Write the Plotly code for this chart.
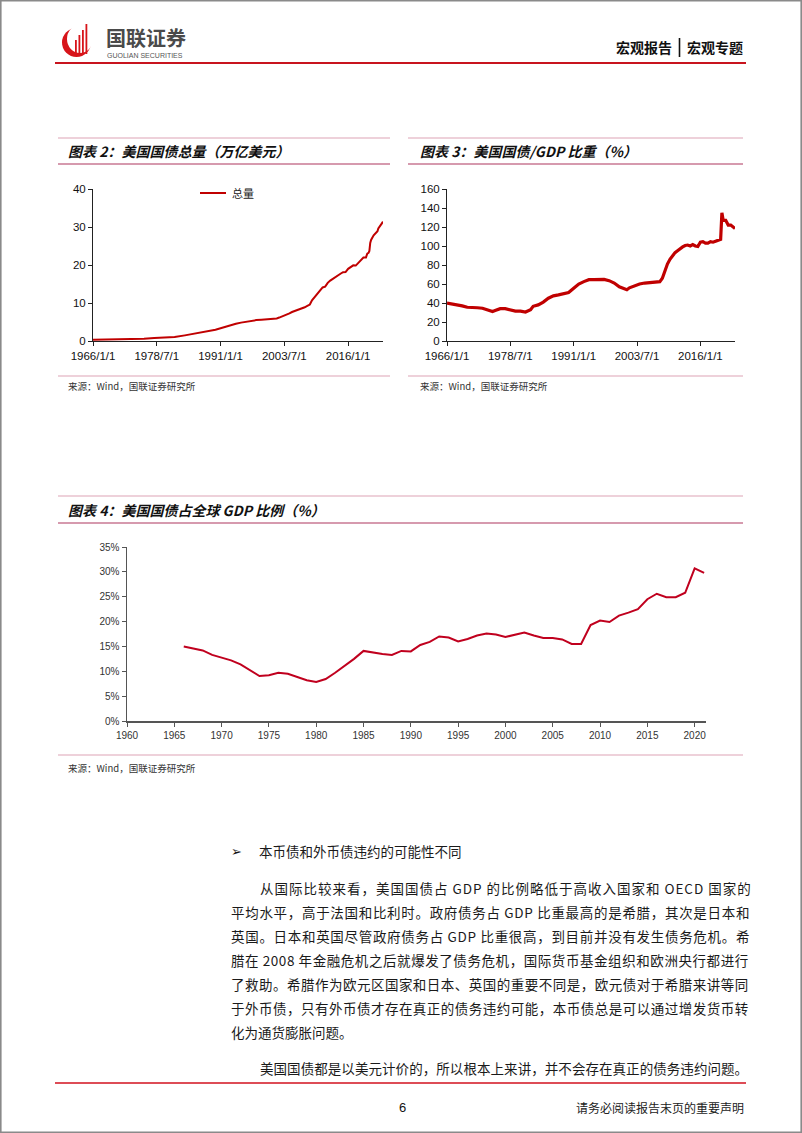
import plotly.graph_objects as go

# ---------------- data ----------------
# Chart 2: US federal debt total (trillion USD)
debt_dates = ['1966-01-01', '1968-01-01', '1970-01-01', '1972-01-01', '1974-01-01', '1976-01-01',
              '1978-01-01', '1980-01-01', '1982-01-01', '1984-01-01', '1986-01-01', '1988-01-01',
              '1990-01-01', '1991-01-01', '1992-01-01', '1993-01-01', '1994-01-01', '1995-01-01',
              '1996-01-01', '1997-01-01', '1998-01-01', '1999-01-01', '2000-01-01', '2000-07-01',
              '2001-01-01', '2001-07-01', '2002-01-01', '2002-07-01', '2003-01-01', '2003-07-01',
              '2004-01-01', '2004-07-01', '2005-01-01', '2005-07-01', '2006-01-01', '2006-07-01',
              '2007-01-01', '2007-07-01', '2008-01-01', '2008-07-01', '2008-12-01', '2009-06-01',
              '2010-01-01', '2010-07-01', '2011-01-01', '2011-07-01', '2012-01-01', '2012-07-01',
              '2013-01-01', '2013-07-01', '2014-01-01', '2014-07-01', '2015-01-01', '2015-07-01',
              '2016-01-01', '2016-07-01', '2017-01-01', '2017-07-01', '2018-01-01', '2018-07-01',
              '2019-01-01', '2019-07-01', '2019-10-01', '2020-01-01', '2020-03-01', '2020-05-01',
              '2020-07-01', '2021-01-01', '2021-07-01', '2021-10-01', '2021-12-01', '2022-04-01',
              '2022-08-01', '2022-11-01']
debt_total = [0.32, 0.35, 0.37, 0.42, 0.47, 0.58,
              0.76, 0.85, 1.03, 1.48, 1.95, 2.43,
              2.95, 3.35, 3.78, 4.19, 4.55, 4.84,
              5.09, 5.32, 5.50, 5.61, 5.73, 5.66,
              5.73, 5.72, 5.94, 6.17, 6.40, 6.78,
              7.00, 7.28, 7.63, 7.84, 8.17, 8.42,
              8.68, 8.87, 9.23, 9.60, 10.70, 11.50,
              12.30, 13.20, 14.10, 14.30, 15.30, 15.90,
              16.40, 16.70, 17.30, 17.70, 18.10, 18.15,
              19.00, 19.40, 19.90, 19.85, 20.50, 21.20,
              21.98, 22.00, 23.00, 23.20, 23.70, 25.80,
              26.60, 27.80, 28.40, 28.90, 29.60, 30.40,
              30.90, 31.40]

# Chart 3: US federal debt / GDP (%)
ratio_dates = ['1966-01-01', '1967-01-01', '1968-01-01', '1969-01-01', '1970-01-01', '1971-01-01',
               '1972-01-01', '1973-01-01', '1974-01-01', '1975-01-01', '1975-07-01', '1976-07-01',
               '1977-07-01', '1978-07-01', '1979-07-01', '1980-07-01', '1981-07-01', '1982-07-01',
               '1983-01-01', '1984-01-01', '1985-01-01', '1986-01-01', '1987-01-01', '1988-01-01',
               '1989-01-01', '1990-01-01', '1991-01-01', '1992-01-01', '1993-01-01', '1994-01-01',
               '1995-01-01', '1996-01-01', '1997-01-01', '1998-01-01', '1999-01-01', '2000-01-01',
               '2001-01-01', '2001-07-01', '2002-01-01', '2003-01-01', '2004-01-01', '2005-01-01',
               '2006-01-01', '2007-01-01', '2008-01-01', '2008-07-01', '2009-01-01', '2009-07-01',
               '2010-01-01', '2010-07-01', '2011-01-01', '2011-07-01', '2012-01-01', '2012-07-01',
               '2013-01-01', '2013-07-01', '2014-01-01', '2014-07-01', '2015-01-01', '2015-07-01',
               '2016-01-01', '2016-07-01', '2017-01-01', '2017-07-01', '2018-01-01', '2018-07-01',
               '2019-01-01', '2019-07-01', '2020-01-01', '2020-04-01', '2020-07-01', '2021-01-01',
               '2021-07-01', '2022-01-01', '2022-11-01']
ratio_values = [40, 39, 38.5, 37, 35.5, 35.5,
                35, 34.5, 32.5, 31, 32, 34,
                34, 33, 31.5, 31.5, 30.5, 33,
                36.5, 38, 41, 45, 47.5, 48.5,
                49.5, 51, 55.5, 60, 62.5, 64.5,
                64.5, 65, 64.8, 63.5, 61, 57,
                54.5, 54, 56, 58, 60, 61,
                61.5, 62, 62.5, 66, 74, 81,
                86, 90, 93, 95, 97.5, 99,
                100.5, 101, 100, 101.5, 100, 99.5,
                104, 104.5, 103, 103, 104.5, 104,
                105, 106, 107, 135, 127, 127,
                122, 122, 118.5]

# Chart 4: US debt as share of world GDP (%)
world_years = [1966, 1967, 1968, 1969, 1970, 1971, 1972, 1973, 1974, 1975, 1976, 1977, 1978, 1979,
               1980, 1981, 1982, 1983, 1984, 1985, 1986, 1987, 1988, 1989, 1990, 1991, 1992, 1993,
               1994, 1995, 1996, 1997, 1998, 1999, 2000, 2001, 2002, 2003, 2004, 2005, 2006, 2007,
               2008, 2009, 2010, 2011, 2012, 2013, 2014, 2015, 2016, 2017, 2018, 2019, 2020, 2021]
world_share = [15.0, 14.6, 14.2, 13.3, 12.7, 12.2, 11.4, 10.2, 9.05, 9.2, 9.7, 9.5, 8.9, 8.2,
               7.85, 8.45, 9.7, 11.1, 12.5, 14.1, 13.75, 13.5, 13.3, 14.1, 14.0, 15.3, 15.9, 17.0,
               16.8, 16.0, 16.5, 17.2, 17.6, 17.4, 16.9, 17.4, 17.8, 17.2, 16.7, 16.7, 16.4, 15.5,
               15.5, 19.3, 20.2, 19.9, 21.2, 21.8, 22.5, 24.5, 25.6, 24.9, 24.9, 25.8, 30.7, 29.8]

date_tick_vals = ['1966-01-01', '1978-07-01', '1991-01-01', '2003-07-01', '2016-01-01']
date_tick_text = ['1966/1/1', '1978/7/1', '1991/1/1', '2003/7/1', '2016/1/1']
year_ticks = [1960, 1965, 1970, 1975, 1980, 1985, 1990, 1995, 2000, 2005, 2010, 2015, 2020]

# ---------------- page geometry helpers ----------------
W, H = 802, 1133


def X(px):
    return px / W


def Y(py):
    return 1 - py / H


CJK = "Noto Sans CJK SC"
LAT = "Liberation Sans"

fig = go.Figure()

fig.add_trace(go.Scatter(x=debt_dates, y=debt_total, mode='lines', name='总量',
                         line=dict(color='#C00000', width=2), xaxis='x', yaxis='y',
                         showlegend=False, hoverinfo='skip'))
fig.add_trace(go.Scatter(x=ratio_dates, y=ratio_values, mode='lines',
                         line=dict(color='#C00000', width=3.2), xaxis='x2', yaxis='y2',
                         showlegend=False, hoverinfo='skip'))
fig.add_trace(go.Scatter(x=world_years, y=world_share, mode='lines',
                         line=dict(color='#C0001E', width=2), xaxis='x3', yaxis='y3',
                         showlegend=False, hoverinfo='skip'))

tickfont_a = dict(family=LAT, size=11.5, color='#111')
tickfont_b = dict(family=LAT, size=10, color='#333')

common = dict(showgrid=False, zeroline=False, showline=True, ticks='outside', ticklen=4,
              tickwidth=1, fixedrange=True, automargin=False)

fig.update_layout(
    template='none',
    width=W, height=H, autosize=False,
    margin=dict(l=0, r=0, t=0, b=0, pad=0, autoexpand=False),
    paper_bgcolor='white', plot_bgcolor='white',
    showlegend=False,
    xaxis=dict(domain=[X(93), X(383)], type='date', range=['1966-01-01', '2022-11-01'],
               tickvals=date_tick_vals, ticktext=date_tick_text, anchor='y',
               linecolor='#222', tickcolor='#222', linewidth=1, tickfont=tickfont_a, **common),
    yaxis=dict(domain=[Y(341), Y(189)], range=[0, 40], dtick=10, anchor='x',
               linecolor='#222', tickcolor='#222', linewidth=1, tickfont=tickfont_a, **common),
    xaxis2=dict(domain=[X(447), X(735)], type='date', range=['1966-01-01', '2022-11-01'],
                tickvals=date_tick_vals, ticktext=date_tick_text, anchor='y2',
                linecolor='#222', tickcolor='#222', linewidth=1, tickfont=tickfont_a, **common),
    yaxis2=dict(domain=[Y(341), Y(189)], range=[0, 160], dtick=20, anchor='x2',
                linecolor='#222', tickcolor='#222', linewidth=1, tickfont=tickfont_a, **common),
    xaxis3=dict(domain=[X(127), X(706)], range=[1960, 2021.2], tickvals=year_ticks, anchor='y3',
                linecolor='#555', tickcolor='#555', linewidth=1.5, tickfont=tickfont_b, **common),
    yaxis3=dict(domain=[Y(721), Y(547)], range=[0, 35], dtick=5, ticksuffix='%', anchor='x3',
                linecolor='#555', tickcolor='#555', linewidth=1.5, tickfont=tickfont_b, **common),
)

shapes = []
annotations = []


def hline(x0, x1, y, color, width):
    shapes.append(dict(type='line', xref='paper', yref='paper', x0=X(x0), x1=X(x1),
                       y0=Y(y), y1=Y(y), line=dict(color=color, width=width)))


def text(px, py, s, size, color='#222', family=CJK, anchor='left', weight='normal',
         style='normal'):
    annotations.append(dict(x=X(px), y=Y(py), xref='paper', yref='paper', text=s,
                            showarrow=False, xanchor=anchor, yanchor='middle',
                            font=dict(family=family, size=size, color=color,
                                      weight=weight, style=style)))


# page border
shapes.append(dict(type='rect', xref='paper', yref='paper', x0=X(0.8), x1=X(801.2),
                   y0=Y(0.8), y1=Y(1132.2), line=dict(color='#8a8a8a', width=1.6)))

# ---- header ----
# logo icon: red crescent + rising bars
shapes.append(dict(type='circle', xref='paper', yref='paper', x0=X(62), x1=X(91),
                   y0=Y(57), y1=Y(28), fillcolor='#D7141A', line=dict(width=0)))
shapes.append(dict(type='circle', xref='paper', yref='paper', x0=X(67), x1=X(93),
                   y0=Y(53), y1=Y(25), fillcolor='white', line=dict(width=0)))
for bx, top in [(75, 40), (78.5, 35), (82, 30), (85.5, 24)]:
    shapes.append(dict(type='rect', xref='paper', yref='paper', x0=X(bx), x1=X(bx + 1.8),
                       y0=Y(54), y1=Y(top), fillcolor='#D7141A', line=dict(width=0)))
text(104, 37.5, '<b>国联证券</b>', 20, color='#4a4a4a')
text(105, 55.5, 'GUOLIAN SECURITIES', 7, color='#555', family=LAT)
text(614, 47, '<b>宏观报告</b>', 14, color='#111')
shapes.append(dict(type='line', xref='paper', yref='paper', x0=X(679.5), x1=X(679.5),
                   y0=Y(38), y1=Y(57), line=dict(color='#111', width=1.6)))
text(685, 47, '<b>宏观专题</b>', 14, color='#111')
hline(55, 746, 63, '#C8141E', 2)

# ---- chart blocks ----
for (x0, x1) in [(58, 390), (408, 743)]:
    hline(x0, x1, 138, '#DDA3B6', 1.2)
    hline(x0, x1, 164, '#C87893', 1.4)
    hline(x0, x1, 376, '#DDA3B6', 1.2)
hline(58, 743, 496, '#DDA3B6', 1.2)
hline(58, 743, 523, '#C87893', 1.4)
hline(58, 743, 755, '#DDA3B6', 1.2)

text(66, 151, '图表 2：美国国债总量（万亿美元）', 14, color='#111', weight='bold', style='italic')
text(418, 151, '图表 3：美国国债/GDP 比重（%）', 14, color='#111', weight='bold', style='italic')
text(66, 510, '图表 4：美国国债占全球 GDP 比例（%）', 14, color='#111', weight='bold', style='italic')
text(66, 386, '来源：Wind，国联证券研究所', 9.5, color='#333')
text(418, 386, '来源：Wind，国联证券研究所', 9.5, color='#333')
text(66, 768, '来源：Wind，国联证券研究所', 9.5, color='#333')

# legend of chart 2
hline(200, 226, 193, '#C00000', 2)
text(230, 193, '总量', 11, color='#222')

# ---- body text ----
body_lines = [
    (258, 888, '从国际比较来看，美国国债占 GDP 的比例略低于高收入国家和 OECD 国家的', True),
    (229, 912, '平均水平，高于法国和比利时。政府债务占 GDP 比重最高的是希腊，其次是日本和', True),
    (229, 936, '英国。日本和英国尽管政府债务占 GDP 比重很高，到目前并没有发生债务危机。希', True),
    (229, 960, '腊在 2008 年金融危机之后就爆发了债务危机，国际货币基金组织和欧洲央行都进行', True),
    (229, 984, '了救助。希腊作为欧元区国家和日本、英国的重要不同是，欧元债对于希腊来讲等同', True),
    (229, 1008, '于外币债，只有外币债才存在真正的债务违约可能，本币债总是可以通过增发货币转', True),
    (229, 1032, '化为通货膨胀问题。', False),
    (258, 1068, '美国国债都是以美元计价的，所以根本上来讲，并不会存在真正的债务违约问题。', True),
]
BODY = 13.5
RIGHT = 746


def natural_width(s, size):
    w = 0.0
    for ch in s:
        if ord(ch) > 0x2E80:
            w += size
        elif ch == ' ':
            w += 0.22 * size
        elif ch.isdigit():
            w += 0.55 * size
        elif ch.isupper():
            w += 0.64 * size
        else:
            w += 0.5 * size
    return w


for px, py, s, justify in body_lines:
    if justify:
        ls = (RIGHT - px - natural_width(s, BODY)) / max(len(s) - 1, 1)
        s_html = '<span style="letter-spacing:%.2fpx">%s</span>' % (ls, s)
    else:
        s_html = s
    text(px, py, s_html, BODY, color='#1a1a1a')

text(229, 851, '➢', 13, color='#111', family='DejaVu Sans')
text(257, 851, '本币债和外币债违约的可能性不同', BODY, color='#1a1a1a')

hline(55, 746, 1083, '#D2101E', 1.6)
text(402, 1107, '6', 13, color='#111', family=LAT, anchor='center')
text(746, 1107, '请务必阅读报告末页的重要声明', 12, color='#222', anchor='right')

fig.update_layout(shapes=shapes, annotations=annotations)

fig.write_html("out.html", config={'displayModeBar': False, 'staticPlot': True})
